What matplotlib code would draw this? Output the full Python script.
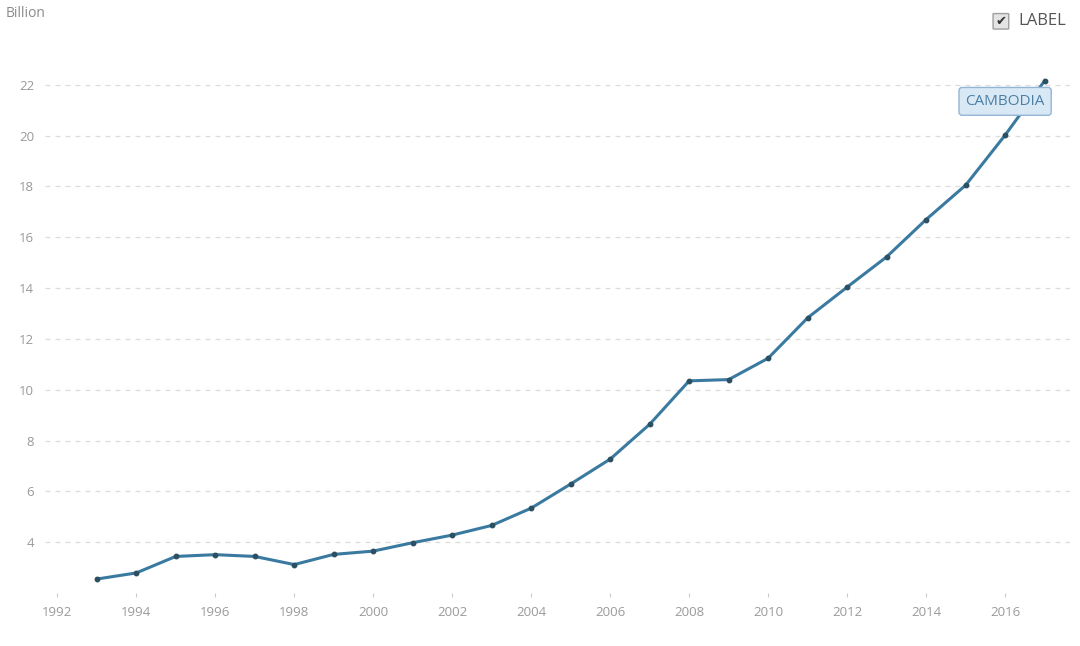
import matplotlib.pyplot as plt
from matplotlib.patches import FancyBboxPatch

plt.rcParams['font.family'] = ['Open Sans', 'DejaVu Sans']

# GDP, current US$ (billion)
years = list(range(1993, 2018))
gdp = [2.55, 2.79, 3.44, 3.51, 3.44, 3.12, 3.52, 3.65, 3.98, 4.28, 4.66,
       5.34, 6.29, 7.27, 8.64, 10.35, 10.40, 11.24, 12.83, 14.04, 15.23,
       16.70, 18.05, 20.02, 22.16]
country = 'CAMBODIA'
x_ticks = list(range(1992, 2018, 2))
y_ticks = list(range(4, 23, 2))

fig = plt.figure(figsize=(10.8, 6.46), dpi=100)
ax = fig.add_axes([0.042, 0.082, 0.949, 0.826])

line_color = '#3b7aa0'
ax.plot(years, gdp, color=line_color, linewidth=2.2, marker='o',
        markersize=3.2, markerfacecolor='#2c4f62', markeredgecolor='#2c4f62',
        zorder=3)

ax.set_xlim(1991.7, 2017.65)
ax.set_ylim(2, 23)
ax.set_xticks(x_ticks)
ax.set_yticks(y_ticks)
ax.grid(axis='y', color='#dcdcdc', linestyle=(0, (4, 4)), linewidth=0.9)
ax.grid(axis='x', visible=False)
for s in ax.spines.values():
    s.set_visible(False)
ax.tick_params(axis='x', length=3, color='#cccccc', labelcolor='#9a9a9a',
               labelsize=9.5, pad=6)
ax.tick_params(axis='y', length=0, labelcolor='#9a9a9a', labelsize=9.5, pad=8)

# series label box
ax.annotate(country, xy=(2016.0, 21.35), ha='center', va='center',
            fontsize=11, color='#4c7fa6',
            bbox=dict(boxstyle='round,pad=0.42,rounding_size=0.2',
                      facecolor='#d8e8f5', edgecolor='#93b6d4', linewidth=1),
            zorder=4)

fig.text(0.005, 0.979, 'Billion', fontsize=10, color='#8a8a8a',
         ha='left', va='center')

# checkbox + LABEL at top right
box = FancyBboxPatch((0.9205, 0.956), 0.0125, 0.022,
                     boxstyle='round,pad=0.001', transform=fig.transFigure,
                     facecolor='#e4e4e4', edgecolor='#a0a0a0', linewidth=1)
fig.patches.append(box)
fig.text(0.9268, 0.967, '\u2714', fontsize=9.5, color='#333333',
         ha='center', va='center', family=['DejaVu Sans'])
fig.text(0.9425, 0.967, 'LABEL', fontsize=12, color='#555555',
         ha='left', va='center')

fig.savefig('out.png', dpi=100)
